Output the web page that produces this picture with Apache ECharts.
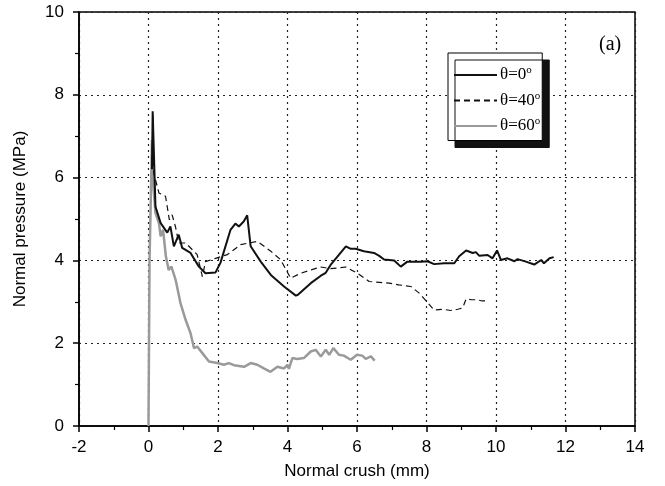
<!DOCTYPE html>
<html>
<head>
<meta charset="utf-8">
<script src="https://cdn.jsdelivr.net/npm/echarts@6/dist/echarts.min.js"></script>
<style>
  html, body { margin: 0; padding: 0; background: #fff; }
  #chart { width: 665px; height: 486px; }
</style>
</head>
<body>
<div id="chart"></div>
<script>
// θ=0° curve
const crush0 = [0.1, 0.12, 0.2, 0.35, 0.54, 0.63, 0.73, 0.87, 0.97, 1.21, 1.45, 1.64, 1.93, 2.07, 2.36, 2.5, 2.6, 2.74, 2.84, 2.94,
  3.23, 3.52, 3.9, 4.24, 4.3, 4.67, 4.96, 5.1, 5.24, 5.68, 5.82, 5.96, 6.2, 6.49, 6.64, 6.78, 7.07, 7.26, 7.45, 7.64,
  7.84, 8.03, 8.22, 8.51, 8.8, 8.94, 9.14, 9.33, 9.42, 9.52, 9.76, 9.9, 10.03, 10.14, 10.33, 10.53, 10.62, 10.86, 11.1, 11.15,
  11.3, 11.38, 11.54, 11.66]
const press0 = [6.2, 7.6, 5.3, 4.9, 4.67, 4.82, 4.34, 4.62, 4.3, 4.18, 3.85, 3.69, 3.71, 3.94, 4.74, 4.89, 4.82, 4.94, 5.09, 4.34,
  3.97, 3.65, 3.37, 3.15, 3.17, 3.45, 3.63, 3.7, 3.89, 4.34, 4.28, 4.28, 4.22, 4.18, 4.11, 4.02, 4.0, 3.85, 3.97, 3.97,
  3.97, 3.98, 3.91, 3.93, 3.93, 4.1, 4.24, 4.18, 4.2, 4.11, 4.13, 4.05, 4.24, 4.01, 4.05, 3.98, 4.03, 3.97, 3.9, 3.88,
  4.01, 3.93, 4.05, 4.08]

// θ=40° curve
const crush40 = [0.1, 0.13, 0.15, 0.3, 0.49, 0.6, 0.68, 0.78, 0.87, 1.07, 1.4, 1.55, 1.64, 1.93, 2.27, 2.65, 2.89, 3.13, 3.52, 3.8,
  4.09, 4.38, 4.67, 4.96, 5.24, 5.68, 6.01, 6.35, 6.64, 6.93, 7.2, 7.55, 7.79, 8.03, 8.22, 8.46, 8.7, 8.9, 9.04, 9.14,
  9.3, 9.46, 9.6, 9.74]
const press40 = [6.4, 7.5, 6.11, 5.63, 5.55, 4.98, 5.1, 4.8, 4.42, 4.42, 4.14, 3.61, 3.97, 4.05, 4.14, 4.38, 4.42, 4.46, 4.22, 4.02,
  3.57, 3.69, 3.77, 3.84, 3.8, 3.84, 3.69, 3.49, 3.47, 3.45, 3.41, 3.37, 3.21, 2.98, 2.8, 2.82, 2.79, 2.82, 2.85, 3.07,
  3.05, 3.05, 3.02, 3.02]

// θ=60° curve
const crush60 = [0, 0.03, 0.1, 0.15, 0.2, 0.3, 0.35, 0.42, 0.5, 0.58, 0.66, 0.78, 0.92, 1.07, 1.21, 1.31, 1.4, 1.55, 1.74, 1.98,
  2.17, 2.31, 2.46, 2.75, 2.94, 3.13, 3.32, 3.51, 3.71, 3.9, 4.0, 4.04, 4.14, 4.28, 4.47, 4.67, 4.81, 4.96, 5.1, 5.2,
  5.32, 5.48, 5.62, 5.82, 6.0, 6.15, 6.25, 6.4, 6.51]
const press60 = [0, 4.0, 6.9, 5.7, 5.15, 4.9, 4.58, 4.74, 4.1, 3.77, 3.85, 3.53, 2.97, 2.56, 2.24, 1.88, 1.92, 1.76, 1.56, 1.52,
  1.48, 1.52, 1.47, 1.43, 1.52, 1.48, 1.39, 1.31, 1.43, 1.39, 1.48, 1.38, 1.64, 1.62, 1.64, 1.8, 1.84, 1.68, 1.84, 1.72,
  1.88, 1.72, 1.7, 1.6, 1.72, 1.7, 1.62, 1.68, 1.58]

const seriesNames = ['θ=0°', 'θ=40°', 'θ=60°']

const zip = (xs, ys) => xs.map((x, i) => [x, ys[i]])

const chart = echarts.init(document.getElementById('chart'))

const sansFont = '"Liberation Sans", Arial, sans-serif'
const serifFont = '"Liberation Serif", "Times New Roman", serif'

const gridDots = { color: '#222', width: 1.2, type: [2, 4] }

chart.setOption({
  animation: false,
  backgroundColor: '#fff',
  title: {
    text: '(a)',
    left: 594,
    top: 30,
    textStyle: { fontFamily: serifFont, fontSize: 20, fontWeight: 'normal', color: '#000' },
  },
  grid: {
    left: 79,
    right: 30,
    top: 12,
    bottom: 60,
    show: true,
    borderColor: '#000',
    borderWidth: 1.5,
  },
  legend: {
    orient: 'vertical',
    left: 448,
    top: 53,
    padding: [12, 2, 6, 5],
    itemGap: 7,
    itemWidth: 43,
    itemHeight: 18,
    backgroundColor: '#fff',
    borderColor: '#000',
    borderWidth: 1,
    borderRadius: 0,
    shadowColor: '#111',
    shadowBlur: 0,
    shadowOffsetX: 7,
    shadowOffsetY: 7,
    itemStyle: { opacity: 0 },
    data: seriesNames,
    formatter: (n) => n.replace('°', '{s|o}'),
    textStyle: {
      fontFamily: serifFont,
      fontSize: 17,
      color: '#000',
      padding: [0, 0, 0, -2],
      rich: {
        s: { fontFamily: serifFont, fontSize: 11, padding: [0, 0, 9, 0], color: '#000' },
      },
    },
  },
  xAxis: {
    type: 'value',
    min: -2,
    max: 14,
    interval: 2,
    name: 'Normal crush (mm)',
    nameLocation: 'middle',
    nameGap: 37,
    nameTextStyle: { fontFamily: sansFont, fontSize: 17, color: '#000' },
    axisLine: { onZero: false, lineStyle: { color: '#000', width: 1.5 } },
    axisTick: { inside: false, length: 6, lineStyle: { color: '#000', width: 1.5 } },
    minorTick: { show: true, splitNumber: 2, length: 4, lineStyle: { color: '#000', width: 1.2 } },
    axisLabel: { fontFamily: sansFont, fontSize: 17, color: '#000', margin: 13 },
    splitLine: { show: true, lineStyle: gridDots },
  },
  yAxis: {
    type: 'value',
    min: 0,
    max: 10,
    interval: 2,
    name: 'Normal pressure (MPa)',
    nameLocation: 'middle',
    nameGap: 50,
    nameTextStyle: { fontFamily: sansFont, fontSize: 17, color: '#000' },
    axisLine: { onZero: false, lineStyle: { color: '#000', width: 1.5 } },
    axisTick: { inside: false, length: 6, lineStyle: { color: '#000', width: 1.5 } },
    minorTick: { show: true, splitNumber: 2, length: 4, lineStyle: { color: '#000', width: 1.2 } },
    axisLabel: { fontFamily: sansFont, fontSize: 17, color: '#000', margin: 15 },
    splitLine: { show: true, lineStyle: gridDots },
  },
  series: [
    {
      name: seriesNames[0],
      type: 'line',
      symbol: 'none',
      z: 4,
      lineStyle: { color: '#111', width: 2 },
      itemStyle: { color: '#111' },
      data: zip(crush0, press0),
    },
    {
      name: seriesNames[1],
      type: 'line',
      symbol: 'none',
      z: 3,
      lineStyle: { color: '#111', width: 1.2, type: [6, 4] },
      itemStyle: { color: '#111' },
      data: zip(crush40, press40),
    },
    {
      name: seriesNames[2],
      type: 'line',
      symbol: 'none',
      z: 2,
      lineStyle: { color: '#9a9a9a', width: 2.5 },
      itemStyle: { color: '#9a9a9a' },
      data: zip(crush60, press60),
    },
  ],
})
</script>
</body>
</html>
